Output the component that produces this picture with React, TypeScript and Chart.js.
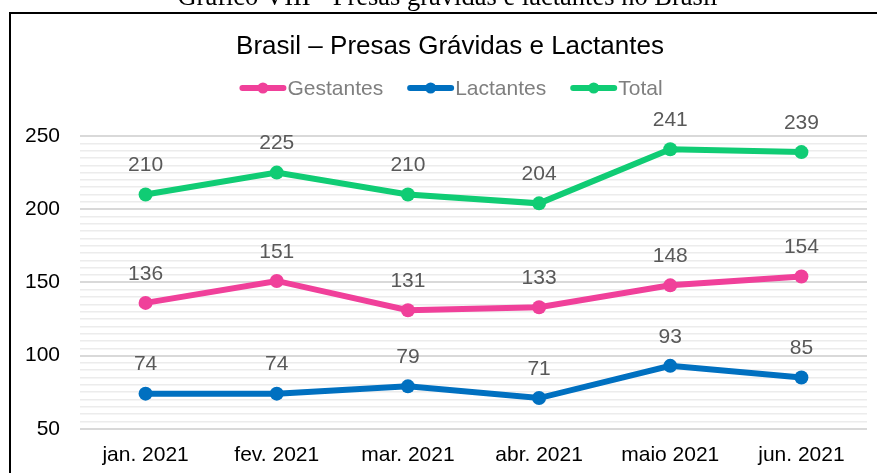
import React, { useEffect, useRef } from "react";
import { Chart, registerables } from "chart.js";

Chart.register(...registerables);

const categories = ["jan. 2021", "fev. 2021", "mar. 2021", "abr. 2021", "maio 2021", "jun. 2021"];
const gestantes = [136, 151, 131, 133, 148, 154];
const lactantes = [74, 74, 79, 71, 93, 85];
const total = [210, 225, 210, 204, 241, 239];
const seriesNames = ["Gestantes", "Lactantes", "Total"];
const seriesColors = ["#F0409A", "#0070C0", "#10CC74"];
const caption = "Gráfico VIII - Presas grávidas e lactantes no Brasil";
const chartTitle = "Brasil – Presas Grávidas e Lactantes";

const SANS = "'Liberation Sans', Arial, sans-serif";
const SERIF = "'Liberation Serif', 'Times New Roman', serif";

const decorPlugin = {
  id: "decor",
  beforeDraw(chart: any) {
    const ctx = chart.ctx;
    ctx.save();
    ctx.fillStyle = "#ffffff";
    ctx.fillRect(0, 0, chart.width, chart.height);
    // caption (cut off at top)
    ctx.fillStyle = "#000000";
    ctx.font = `26.5px ${SERIF}`;
    ctx.textAlign = "center";
    ctx.textBaseline = "alphabetic";
    ctx.fillText(caption, 447.5, 5);
    // box
    ctx.strokeStyle = "#000000";
    ctx.lineWidth = 2;
    ctx.strokeRect(10, 13, 2000, 2000);
    ctx.restore();
  },
  afterDraw(chart: any) {
    const ctx = chart.ctx;
    ctx.save();
    // title
    ctx.fillStyle = "#000000";
    ctx.font = `26px ${SANS}`;
    ctx.textAlign = "center";
    ctx.textBaseline = "middle";
    ctx.fillText(chartTitle, 450, 47);
    // legend
    ctx.font = `21px ${SANS}`;
    const lineLen = 47;
    const gap = 24;
    const widths = seriesNames.map((n) => lineLen + 1 + ctx.measureText(n).width);
    const totalW = widths.reduce((a, b) => a + b, 0) + gap * (seriesNames.length - 1);
    let x = 451 - totalW / 2;
    const y = 88;
    seriesNames.forEach((n, i) => {
      ctx.strokeStyle = seriesColors[i];
      ctx.fillStyle = seriesColors[i];
      ctx.lineWidth = 6;
      ctx.lineCap = "round";
      ctx.beginPath();
      ctx.moveTo(x + 3, y);
      ctx.lineTo(x + lineLen - 3, y);
      ctx.stroke();
      ctx.beginPath();
      ctx.arc(x + lineLen / 2, y, 5.5, 0, Math.PI * 2);
      ctx.fill();
      ctx.fillStyle = "#7F7F7F";
      ctx.textAlign = "left";
      ctx.textBaseline = "middle";
      ctx.fillText(n, x + lineLen + 1, y + 1);
      x += widths[i] + gap;
    });
    ctx.restore();
  },
  afterDatasetsDraw(chart: any) {
    const ctx = chart.ctx;
    ctx.save();
    ctx.font = `21px ${SANS}`;
    ctx.fillStyle = "#595959";
    ctx.textAlign = "center";
    ctx.textBaseline = "middle";
    chart.data.datasets.forEach((ds: any, di: number) => {
      const meta = chart.getDatasetMeta(di);
      meta.data.forEach((el: any, i: number) => {
        ctx.fillText(String(ds.data[i]), el.x, el.y - 29);
      });
    });
    ctx.restore();
  },
};

export default function App() {
  const ref = useRef<HTMLCanvasElement | null>(null);
  useEffect(() => {
    if (!ref.current) return;
    const mk = (label: string, data: number[], color: string) => ({
      label,
      data,
      borderColor: color,
      backgroundColor: color,
      borderWidth: 6,
      pointRadius: 7,
      pointHoverRadius: 7,
      pointBorderWidth: 0,
      tension: 0,
    });
    const chart = new Chart(ref.current, {
      type: "line",
      data: {
        labels: categories,
        datasets: [
          mk(seriesNames[0], gestantes, seriesColors[0]),
          mk(seriesNames[1], lactantes, seriesColors[1]),
          mk(seriesNames[2], total, seriesColors[2]),
        ],
      },
      options: {
        animation: false,
        responsive: false,
        devicePixelRatio: 1,
        layout: { padding: { left: 10, right: 33, top: 136, bottom: 6 } },
        plugins: {
          legend: { display: false },
          title: { display: false },
          tooltip: { enabled: false },
        },
        scales: {
          x: {
            offset: true,
            grid: { display: false, drawTicks: false },
            border: { display: false },
            ticks: {
              padding: 14,
              color: "#000000",
              font: { family: SANS, size: 21 },
              maxRotation: 0,
              autoSkip: false,
            },
          },
          y: {
            min: 50,
            max: 250,
            afterFit: (s: any) => {
              s.width = 70;
            },
            grid: {
              drawTicks: false,
              color: (c: any) => (c.tick && c.tick.value % 50 === 0 ? "#D9D9D9" : "#ECECEC"),
              lineWidth: (c: any) => (c.tick && c.tick.value % 50 === 0 ? 2 : 1.5),
            },
            border: { display: false },
            ticks: {
              stepSize: 5,
              maxTicksLimit: 100,
              autoSkip: false,
              padding: 20,
              color: "#000000",
              font: { family: SANS, size: 21 },
              callback: (v: any) => (Number(v) % 50 === 0 ? String(v) : ""),
            },
          },
        },
      },
      plugins: [decorPlugin],
    });
    return () => chart.destroy();
  }, []);
  return (
    <div
      style={{
        position: "fixed",
        left: 0,
        top: 0,
        width: 877,
        height: 473,
        overflow: "hidden",
        background: "#ffffff",
      }}
    >
      <canvas ref={ref} width={900} height={488} style={{ display: "block", width: 900, height: 488 }} />
    </div>
  );
}
